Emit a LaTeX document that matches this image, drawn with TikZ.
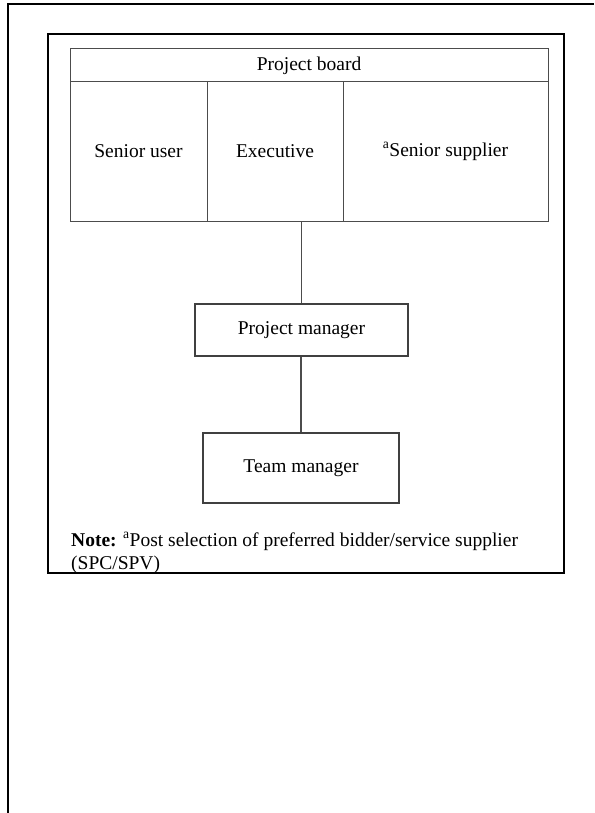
\documentclass[tikz,border=0pt]{standalone}
\usepackage{fontspec}
\setmainfont{Liberation Serif}
\begin{document}
\begin{tikzpicture}[x=1pt,y=-1pt,
  txt/.style={font=\fontsize{19.5}{23}\selectfont},
  cell/.style={txt,draw=black!70,line width=1pt,inner sep=0pt,
    minimum width=#1,anchor=center},
  orgbox/.style={txt,draw=black!75,line width=1.1pt,inner sep=0pt,anchor=center},
  link/.style={draw=black!70,line width=1.1pt}]
\useasboundingbox (0,0) rectangle (594,813);
% outer sheet edge
\draw[line width=2pt] (8,813) -- (8,4) -- (594,4);
% panel frame
\draw[line width=1.5pt] (48,34) rectangle (564,573);
% project board
\node[cell=478pt,minimum height=33pt] (board) at (309,65.5) {Project board};
\node[cell=137pt,minimum height=139pt] (user) at (138.5,151.5) {Senior user};
\node[cell=136pt,minimum height=139pt] (exec) at (275,151.5) {Executive};
\node[cell=205pt,minimum height=139pt] (supp) at (445.5,151.5) {\textsuperscript{a}Senior supplier};
% management chain
\node[orgbox,minimum width=213pt,minimum height=52pt] (pm) at (301.5,330) {Project manager};
\node[orgbox,minimum width=196pt,minimum height=70pt] (tm) at (301,468) {Team manager};
\draw[link] (pm.north |- exec.south) -- (pm.north);
\draw[link] (pm.south -| tm.north) -- (tm.north);
% note (anchor sits on the baseline of the last line)
\node[txt,anchor=base west,inner sep=0pt,align=left] (note) at (71,569)
  {\textbf{Note:} \textsuperscript{a}Post selection of preferred bidder/service supplier\\(SPC/SPV)};
\end{tikzpicture}
\end{document}
